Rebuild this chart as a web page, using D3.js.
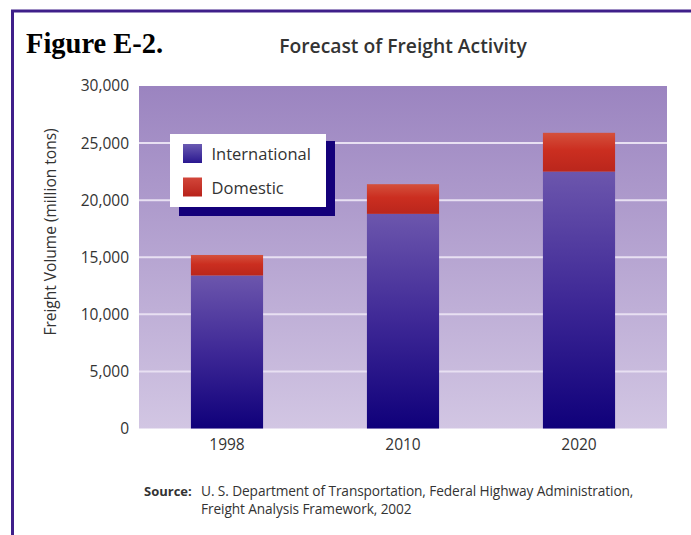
<!DOCTYPE html>
<html>
<head>
<meta charset="utf-8">
<script src="https://cdn.jsdelivr.net/npm/d3@7"></script>
<style>
  html, body { margin: 0; padding: 0; background: #ffffff; }
  svg { display: block; }
</style>
</head>
<body>
<svg id="chart" width="691" height="535"></svg>
<script>
// ---- data ----
const years = ["1998", "2010", "2020"];
const international = [13400, 18800, 22500];
const domestic = [1800, 2600, 3400];
const seriesNames = ["International", "Domestic"];
const yTickValues = [0, 5000, 10000, 15000, 20000, 25000, 30000];
const sourceLines = [
  "U. S. Department of Transportation, Federal Highway Administration,",
  "Freight Analysis Framework, 2002"
];

const svg = d3.select("#chart");
const W = 691, H = 535;
const margin = { left: 139, right: 24, top: 86, bottom: 106.5 };
const plotW = W - margin.left - margin.right;
const plotH = H - margin.top - margin.bottom;
const sans = "'Open Sans', 'Noto Sans', sans-serif";

const defs = svg.append("defs");
function vgrad(id, stops) {
  const g = defs.append("linearGradient").attr("id", id)
    .attr("x1", 0).attr("y1", 0).attr("x2", 0).attr("y2", 1);
  stops.forEach(s => g.append("stop").attr("offset", s[0]).attr("stop-color", s[1]));
}
vgrad("bgGrad", [[0, "#9b84c0"], [1, "#d2c6e3"]]);
vgrad("intlGrad", [[0, "#6c56ad"], [0.5, "#3e2896"], [1, "#0f007a"]]);
vgrad("domGrad", [[0, "#d4503c"], [0.45, "#cb2e20"], [1, "#ba261c"]]);
vgrad("intlSw", [[0, "#6a5ab2"], [1, "#2a1890"]]);
vgrad("domSw", [[0, "#d2463a"], [1, "#b8221a"]]);

// frame
svg.append("rect").attr("x", 0).attr("y", 0).attr("width", W).attr("height", H).attr("fill", "#ffffff");
svg.append("line").attr("x1", 11).attr("x2", W).attr("y1", 11).attr("y2", 11)
  .attr("stroke", "#3f1f8a").attr("stroke-width", 3);
svg.append("line").attr("x1", 12.5).attr("x2", 12.5).attr("y1", 10).attr("y2", H)
  .attr("stroke", "#3f1f8a").attr("stroke-width", 3);

// scales
const x = d3.scaleBand().domain(years).range([0, plotW]).paddingInner(0.59).paddingOuter(0.295);
const y = d3.scaleLinear().domain([0, 30000]).range([plotH, 0]);

const g = svg.append("g").attr("transform", `translate(${margin.left},${margin.top})`);

// background
g.append("rect").attr("x", 0).attr("y", 0).attr("width", plotW).attr("height", plotH)
  .attr("fill", "url(#bgGrad)");

// gridlines
g.append("g").selectAll("line")
  .data(yTickValues.filter(v => v > 0 && v < 30000))
  .join("line")
  .attr("x1", 0).attr("x2", plotW)
  .attr("y1", d => y(d)).attr("y2", d => y(d))
  .attr("stroke", "#e8e0f2").attr("stroke-width", 2);

// y axis
const yAxis = g.append("g").call(
  d3.axisLeft(y).tickValues(yTickValues).tickSize(0).tickPadding(10).tickFormat(d3.format(","))
);
yAxis.select(".domain").remove();
yAxis.selectAll("text").attr("font-family", sans).attr("font-size", 15.5).attr("fill", "#333");

// x axis
const xAxis = g.append("g").attr("transform", `translate(0,${plotH})`)
  .call(d3.axisBottom(x).tickSize(0).tickPadding(10));
xAxis.select(".domain").remove();
xAxis.selectAll("text").attr("font-family", sans).attr("font-size", 15.5).attr("fill", "#333");

// stacked bars
const rows = years.map((yr, i) => ({ year: yr, International: international[i], Domestic: domestic[i] }));
const stacked = d3.stack().keys(seriesNames)(rows);
const fills = { International: "url(#intlGrad)", Domestic: "url(#domGrad)" };
g.append("g").selectAll("g")
  .data(stacked)
  .join("g")
  .attr("fill", d => fills[d.key])
  .selectAll("rect")
  .data(d => d)
  .join("rect")
  .attr("x", d => x(d.data.year))
  .attr("width", x.bandwidth())
  .attr("y", d => y(d[1]))
  .attr("height", d => y(d[0]) - y(d[1]));

// legend
const lg = svg.append("g").attr("transform", "translate(170,134)");
lg.append("rect").attr("x", 9).attr("y", 7).attr("width", 156).attr("height", 75).attr("fill", "#14007a");
lg.append("rect").attr("x", 0).attr("y", 0).attr("width", 156).attr("height", 73).attr("fill", "#ffffff");
const swFill = ["url(#intlSw)", "url(#domSw)"];
const items = lg.selectAll("g.item").data(seriesNames).join("g")
  .attr("class", "item")
  .attr("transform", (d, i) => `translate(13,${10 + i * 33.5})`);
items.append("rect").attr("width", 19).attr("height", 19).attr("fill", (d, i) => swFill[i]);
items.append("text").attr("x", 28.5).attr("y", 16).text(d => d)
  .attr("font-family", sans).attr("font-size", 16.5).attr("fill", "#333");

// titles
svg.append("text").attr("x", 26).attr("y", 53).text("Figure E-2.")
  .attr("font-family", "'Liberation Serif', 'Times New Roman', serif")
  .attr("font-weight", "bold").attr("font-size", 28.5).attr("fill", "#000");
svg.append("text").attr("x", 403).attr("y", 53).attr("text-anchor", "middle")
  .text("Forecast of Freight Activity")
  .attr("font-family", sans).attr("font-weight", 600).attr("font-size", 19.3).attr("fill", "#333");

// y label
svg.append("text")
  .attr("transform", "translate(56,232) rotate(-90)")
  .attr("text-anchor", "middle")
  .text("Freight Volume (million tons)")
  .attr("font-family", sans).attr("font-size", 15.5).attr("fill", "#333");

// source
svg.append("text").attr("x", 144).attr("y", 496).text("Source:")
  .attr("font-family", sans).attr("font-weight", 700).attr("font-size", 13).attr("fill", "#333");
svg.append("g").selectAll("text").data(sourceLines).join("text")
  .attr("x", 201).attr("y", (d, i) => 496 + i * 18)
  .text(d => d)
  .attr("font-family", sans).attr("font-size", 13.7).attr("letter-spacing", -0.1).attr("fill", "#333");
</script>
</body>
</html>
